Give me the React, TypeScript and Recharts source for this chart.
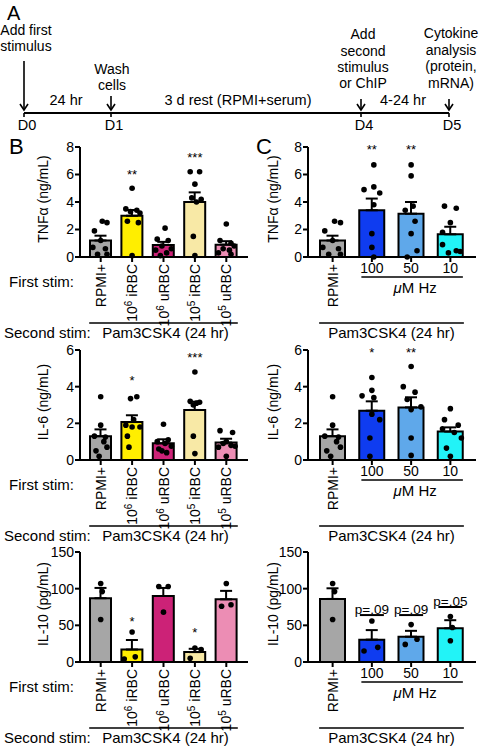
import React from 'react';
import { ComposedChart, Bar, Cell, ErrorBar, Scatter, XAxis, YAxis } from 'recharts';

const FONT = '"Liberation Sans", Arial, Helvetica, sans-serif';

// ---- groups ----
const stimB = ['RPMI+', '10^6 iRBC', '10^6 uRBC', '10^5 iRBC', '10^5 uRBC'];
const stimC = ['RPMI+', '100', '50', '10'];
const colorsB = ['#a6a6a6', '#ffee00', '#cc2277', '#f8e9a6', '#ec8db4'];
const colorsC = ['#a6a6a6', '#0f3cf0', '#5fa8ea', '#22f3f7'];

// ---- TNFα (ng/mL) ----
const tnfMeanB = [1.2, 3.0, 0.88, 4.0, 0.9];
const tnfSemB = [0.35, 0.42, 0.22, 0.7, 0.25];
const tnfMeanC = [1.2, 3.4, 3.15, 1.65];
const tnfSemC = [0.35, 0.85, 0.85, 0.55];
const tnfRpmiDots: [number, number][] = [[0.05, 2.6], [0.2, 2.5], [-0.2, 1.9], [0.0, 1.2], [-0.25, 0.7], [0.15, 0.6], [-0.1, 0.2], [0.2, 0.2]];
const tnfDotsB: [number, number][][] = [
  tnfRpmiDots,
  [[0.0, 5.0], [-0.2, 3.5], [0.15, 3.4], [0.25, 3.2], [-0.05, 3.3], [-0.15, 2.6], [0.2, 2.5], [0.0, 0.1]],
  [[0.05, 2.1], [-0.2, 1.3], [0.15, 1.2], [-0.05, 0.8], [0.25, 0.6], [-0.25, 0.5], [0.1, 0.3], [-0.1, 0.1]],
  [[-0.15, 6.2], [0.15, 6.2], [0.0, 5.3], [-0.1, 4.3], [0.2, 4.2], [0.05, 4.0], [-0.05, 1.5], [0.0, 0.1]],
  [[0.0, 2.4], [-0.2, 1.2], [0.15, 1.0], [0.25, 0.8], [-0.1, 0.6], [0.1, 0.5], [-0.25, 0.3], [0.15, 0.2]],
];
const tnfDotsC: [number, number][][] = [
  tnfRpmiDots,
  [[0.05, 6.7], [0.05, 5.1], [-0.2, 4.9], [0.2, 4.65], [0.05, 3.8], [0.0, 1.7], [0.0, 0.7], [0.05, 0.0]],
  [[0.0, 6.7], [0.0, 5.9], [0.05, 3.7], [-0.15, 3.4], [0.1, 2.6], [0.0, 1.7], [0.15, 0.45], [-0.1, 0.0]],
  [[-0.15, 3.7], [0.15, 3.55], [0.0, 2.5], [-0.2, 1.8], [-0.2, 0.9], [0.15, 0.45], [0.25, 0.4], [-0.05, 0.3]],
];
const tnfSigB = ['', '**', '', '***', ''];
const tnfSigYB = [0, 6.2, 0, 7.4, 0];
const tnfSigC = ['', '**', '**', ''];
const tnfSigYC = [0, 8.0, 8.0, 0];

// ---- IL-6 (ng/mL) ----
const il6MeanB = [1.3, 2.07, 0.91, 2.73, 0.95];
const il6SemB = [0.37, 0.37, 0.22, 0.45, 0.21];
const il6MeanC = [1.3, 2.69, 2.87, 1.55];
const il6SemC = [0.37, 0.51, 0.55, 0.23];
const il6RpmiDots: [number, number][] = [[0.0, 3.45], [0.0, 1.9], [-0.2, 1.3], [0.15, 1.25], [0.1, 1.0], [0.2, 0.7], [-0.15, 0.5], [-0.05, 0.2]];
const il6DotsB: [number, number][][] = [
  il6RpmiDots,
  [[0.15, 3.45], [-0.05, 3.35], [0.05, 2.2], [-0.2, 1.9], [0.0, 1.8], [0.25, 1.8], [-0.15, 1.3], [-0.1, 0.7]],
  [[0.0, 1.95], [0.15, 1.1], [-0.2, 1.0], [0.05, 0.9], [0.25, 0.75], [-0.15, 0.6], [-0.05, 0.5], [0.1, 0.4]],
  [[0.0, 4.8], [-0.15, 3.2], [0.15, 3.15], [0.05, 3.1], [-0.05, 3.0], [-0.05, 1.3], [0.0, 0.35]],
  [[-0.2, 1.6], [0.2, 1.5], [0.0, 1.0], [-0.1, 0.9], [0.15, 0.8], [0.28, 0.75], [-0.25, 0.7], [0.0, 0.2]],
];
const il6DotsC: [number, number][][] = [
  il6RpmiDots,
  [[0.0, 4.5], [0.0, 3.8], [-0.25, 3.5], [0.05, 3.4], [0.0, 2.5], [0.2, 2.2], [-0.05, 1.2], [-0.05, 0.2]],
  [[0.0, 5.1], [-0.2, 4.0], [0.1, 3.7], [-0.1, 3.3], [0.25, 2.9], [0.0, 2.75], [0.0, 1.2], [0.0, 0.25]],
  [[0.0, 2.8], [-0.15, 2.2], [0.2, 1.9], [-0.2, 1.7], [0.1, 1.5], [0.28, 1.2], [-0.1, 0.65], [0.0, 0.2]],
];
const il6SigB = ['', '*', '', '***', ''];
const il6SigYB = [0, 4.45, 0, 5.75, 0];
const il6SigC = ['', '*', '**', ''];
const il6SigYC = [0, 6.0, 6.0, 0];

// ---- IL-10 (pg/mL) ----
const il10MeanB = [87, 17, 90, 13.5, 85.5];
const il10SemB = [14, 13, 11, 4.5, 11.5];
const il10MeanC = [86, 30.5, 34.5, 46];
const il10SemC = [14.5, 13, 8, 11];
const il10RpmiDots: [number, number][] = [[0.0, 107], [0.05, 96], [0.0, 58]];
const il10DotsB: [number, number][][] = [
  il10RpmiDots,
  [[0.0, 41], [-0.25, 4], [0.1, 7]],
  [[-0.15, 103], [0.15, 103], [0.0, 68]],
  [[0.0, 19], [0.2, 17], [-0.15, 5]],
  [[0.0, 107], [-0.15, 76], [0.15, 78]],
];
const il10DotsC: [number, number][][] = [
  il10RpmiDots,
  [[0.0, 56], [-0.2, 15], [0.15, 20]],
  [[0.0, 51], [-0.15, 24], [0.15, 31]],
  [[0.0, 62], [0.05, 47], [0.0, 29]],
];
const il10SigB = ['', '*', '', '*', ''];
const il10SigYB = [0, 58, 0, 43, 0];
const il10SigC = ['', 'p=.09', 'p=.09', 'p=.05'];
const il10SigYC = [0, 64, 64, 75];

// ---- axes ----
const yLabels = ['TNFα (ng/mL)', 'IL-6 (ng/mL)', 'IL-10 (pg/mL)'];
const yMaxes = [8, 6, 150];
const yTickSets = [[0, 2, 4, 6, 8], [0, 2, 4, 6], [0, 50, 100, 150]];

// ---- panel A timeline ----
const days = ['D0', 'D1', 'D4', 'D5'];
const dayNotes = [
  ['Add first', 'stimulus'],
  ['Wash', 'cells'],
  ['Add', 'second', 'stimulus', 'or ChIP'],
  ['Cytokine', 'analysis', '(protein,', 'mRNA)'],
];
const intervals = ['24 hr', '3 d rest (RPMI+serum)', '4-24 hr'];

// ---- layout ----
const PLOT_W = 168;
const PLOT_H = 110;
const M_TOP = 30;
const AXIS_H = 60;
const M_BOTTOM = 30;
const PAD_L = 5;
const PAD_R = 6;
const rowTops = [147, 350, 552];
const colB = { left: 0, width: 250, yAxisWidth: 80, barSize: 21, yLabelX: 43 };
const colC = { left: 240, width: 239, yAxisWidth: 68, barSize: 25, yLabelX: 273 };
const dayX = [24, 111, 361, 449];
const noteX = [26, 112, 363, 451];
const noteBase = [[35, 51], [74, 90], [39, 56, 72, 88], [38, 55, 71, 88]];
const arrowTop = [61, 96, 99, 99];
const intervalX = [66, 238, 403];
const LINE_Y = 113;

type Col = typeof colB;

const barCenter = (col: Col, n: number, i: number) =>
  col.left + col.yAxisWidth + PAD_L + ((PLOT_W - PAD_L - PAD_R) / n) * (i + 0.5);

const stimText = (label: string) => {
  const m = label.match(/^10\^(\d) (.*)$/);
  if (!m) return label;
  return [
    <tspan key="a">10</tspan>,
    <tspan key="b" dy={-5} fontSize={10}>{m[1]}</tspan>,
    <tspan key="c" dy={5}>{' ' + m[2]}</tspan>,
  ];
};

const StimTick = (props: any) => {
  const { x, y, payload } = props;
  const label = String(payload.value);
  if (/^\d+$/.test(label)) {
    return (
      <text x={x} y={y} dy={9} textAnchor="middle" fontSize={14} fill="#000">{label}</text>
    );
  }
  return (
    <text transform={`translate(${x},${y}) rotate(-90)`} textAnchor="end" dy={5} fontSize={14} fill="#000">
      {stimText(label)}
    </text>
  );
};

const dotShape = (p: any) => <circle cx={p.cx} cy={p.cy} r={2.8} fill="#000" />;

type PanelProps = {
  col: Col;
  top: number;
  cats: string[];
  colors: string[];
  means: number[];
  sems: number[];
  dots: [number, number][][];
  sig: string[];
  sigY: number[];
  yMax: number;
  yTicks: number[];
};

const Panel = ({ col, top, cats, colors, means, sems, dots, sig, sigY, yMax, yTicks }: PanelProps) => {
  const n = cats.length;
  const data = cats.map((c, i) => ({ name: c, mean: means[i], err: [0, sems[i]] }));
  const pts = dots.flatMap((g, i) => g.map(([dx, v]) => ({ x: i + dx, y: v })));
  const sigPts = sig.map((t, i) => ({ x: i, y: sigY[i], t })).filter((d) => d.t);
  const sigShape = (p: any) => {
    const t = p.payload.t as string;
    if (t.startsWith('p')) {
      return (
        <g>
          <line x1={p.cx - 12} x2={p.cx + 12} y1={p.cy} y2={p.cy} stroke="#000" strokeWidth={2} />
          <text x={p.cx} y={p.cy - 1} textAnchor="middle" fontSize={13.5} fill="#000">{t}</text>
        </g>
      );
    }
    return <text x={p.cx} y={p.cy + 7} textAnchor="middle" fontSize={13} fill="#000">{t}</text>;
  };
  const axisStyle = { stroke: '#000', strokeWidth: 2 };
  return (
    <div style={{ position: 'absolute', left: col.left, top: top - M_TOP }}>
      <ComposedChart
        width={col.width}
        height={M_TOP + PLOT_H + AXIS_H + M_BOTTOM}
        data={data}
        margin={{ top: M_TOP, right: col.width - col.yAxisWidth - PLOT_W, bottom: M_BOTTOM, left: 0 }}
      >
        <XAxis
          dataKey="name"
          height={AXIS_H}
          padding={{ left: PAD_L, right: PAD_R }}
          interval={0}
          tickSize={5}
          tickMargin={2}
          axisLine={axisStyle}
          tickLine={axisStyle}
          tick={<StimTick />}
        />
        <XAxis xAxisId="num" type="number" dataKey="x" domain={[-0.5, n - 0.5]} padding={{ left: PAD_L, right: PAD_R }} hide />
        <YAxis
          width={col.yAxisWidth}
          domain={[0, yMax]}
          ticks={yTicks}
          interval={0}
          tickSize={5}
          tickMargin={1}
          axisLine={axisStyle}
          tickLine={axisStyle}
          tick={{ fill: '#000', fontSize: 14 }}
        />
        <Bar dataKey="mean" barSize={col.barSize} stroke="#000" strokeWidth={2} isAnimationActive={false}>
          {data.map((d, i) => (
            <Cell key={d.name} fill={colors[i]} />
          ))}
          <ErrorBar dataKey="err" direction="y" width={6} stroke="#000" strokeWidth={2} isAnimationActive={false} />
        </Bar>
        <Scatter xAxisId="num" data={pts} dataKey="y" shape={dotShape} isAnimationActive={false} />
        <Scatter xAxisId="num" data={sigPts} dataKey="y" shape={sigShape} isAnimationActive={false} />
      </ComposedChart>
    </div>
  );
};

const Arrow = ({ x, y1, y2 }: { x: number; y1: number; y2: number }) => (
  <g stroke="#000" strokeWidth={1.6} fill="none">
    <line x1={x} x2={x} y1={y1} y2={y2} />
    <polyline points={`${x - 4},${y2 - 6} ${x},${y2} ${x + 4},${y2 - 6}`} />
  </g>
);

const Annotations = () => {
  const rowsSvg = rowTops.map((top, r) => {
    const zero = top + PLOT_H;
    const bL = barCenter(colB, stimB.length, 0) - colB.barSize / 2 - 1;
    const bR = barCenter(colB, stimB.length, stimB.length - 1) + colB.barSize / 2 + 1;
    const cL = barCenter(colC, stimC.length, 0) - colC.barSize / 2 - 1;
    const cR = barCenter(colC, stimC.length, stimC.length - 1) + colC.barSize / 2 + 1;
    const hL = barCenter(colC, stimC.length, 1) - colC.barSize / 2 + 2;
    const hR = barCenter(colC, stimC.length, 3) + colC.barSize / 2;
    const yMid = top + 52;
    return (
      <g key={r}>
        <text transform={`translate(${colB.yLabelX},${yMid}) rotate(-90)`} textAnchor="middle" dominantBaseline="central" fontSize={14}>{yLabels[r]}</text>
        <text transform={`translate(${colC.yLabelX},${yMid}) rotate(-90)`} textAnchor="middle" dominantBaseline="central" fontSize={14}>{yLabels[r]}</text>
        <text x={9} y={zero + 30} fontSize={15}>First stim:</text>
        <text x={4} y={zero + 81} fontSize={15}>Second stim:</text>
        <line x1={bL} x2={bR} y1={zero + 66} y2={zero + 66} stroke="#000" strokeWidth={1.6} />
        <text x={(bL + bR) / 2 + 2} y={zero + 81} textAnchor="middle" fontSize={15}>Pam3CSK4 (24 hr)</text>
        <line x1={hL} x2={hR} y1={zero + 20} y2={zero + 20} stroke="#000" strokeWidth={1.6} />
        <text x={(hL + hR) / 2 + 3} y={zero + 36} textAnchor="middle" fontSize={15}>
          <tspan fontStyle="italic">μ</tspan>M Hz
        </text>
        <line x1={cL} x2={cR} y1={zero + 66} y2={zero + 66} stroke="#000" strokeWidth={1.6} />
        <text x={(cL + cR) / 2} y={zero + 81} textAnchor="middle" fontSize={15}>Pam3CSK4 (24 hr)</text>
      </g>
    );
  });
  return (
    <svg width={479} height={746} style={{ position: 'absolute', left: 0, top: 0, pointerEvents: 'none' }} fontFamily={FONT} fill="#000">
      <text x={7} y={20} fontSize={20}>A</text>
      <text x={9} y={154} fontSize={22}>B</text>
      <text x={256} y={154} fontSize={22}>C</text>
      <line x1={dayX[0]} x2={dayX[3]} y1={LINE_Y} y2={LINE_Y} stroke="#000" strokeWidth={2} />
      {days.map((d, i) => (
        <g key={d}>
          <line x1={dayX[i]} x2={dayX[i]} y1={LINE_Y} y2={LINE_Y + 4} stroke="#000" strokeWidth={1.6} />
          <Arrow x={dayX[i]} y1={arrowTop[i]} y2={LINE_Y - 3} />
          <text x={dayX[i] + 3} y={130} textAnchor="middle" fontSize={14.5}>{d}</text>
          {dayNotes[i].map((t, k) => (
            <text key={t} x={noteX[i]} y={noteBase[i][k]} textAnchor="middle" fontSize={14}>{t}</text>
          ))}
        </g>
      ))}
      {intervals.map((t, i) => (
        <text key={t} x={intervalX[i]} y={105} textAnchor="middle" fontSize={14.5}>{t}</text>
      ))}
      {rowsSvg}
    </svg>
  );
};

export default function App() {
  const rowsB = [
    { means: tnfMeanB, sems: tnfSemB, dots: tnfDotsB, sig: tnfSigB, sigY: tnfSigYB },
    { means: il6MeanB, sems: il6SemB, dots: il6DotsB, sig: il6SigB, sigY: il6SigYB },
    { means: il10MeanB, sems: il10SemB, dots: il10DotsB, sig: il10SigB, sigY: il10SigYB },
  ];
  const rowsC = [
    { means: tnfMeanC, sems: tnfSemC, dots: tnfDotsC, sig: tnfSigC, sigY: tnfSigYC },
    { means: il6MeanC, sems: il6SemC, dots: il6DotsC, sig: il6SigC, sigY: il6SigYC },
    { means: il10MeanC, sems: il10SemC, dots: il10DotsC, sig: il10SigC, sigY: il10SigYC },
  ];
  return (
    <div style={{ position: 'absolute', left: 0, top: 0, width: 479, height: 746, background: '#fff', overflow: 'hidden', fontFamily: FONT }}>
      {rowTops.map((top, r) => (
        <React.Fragment key={r}>
          <Panel col={colB} top={top} cats={stimB} colors={colorsB} yMax={yMaxes[r]} yTicks={yTickSets[r]} {...rowsB[r]} />
          <Panel col={colC} top={top} cats={stimC} colors={colorsC} yMax={yMaxes[r]} yTicks={yTickSets[r]} {...rowsC[r]} />
        </React.Fragment>
      ))}
      <Annotations />
    </div>
  );
}
